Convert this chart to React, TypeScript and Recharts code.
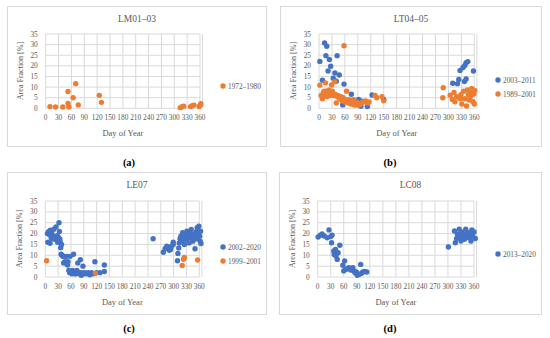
import React from "react";
import { ScatterChart, Scatter, XAxis, YAxis, CartesianGrid, Legend } from "recharts";

const dayTicks = [0, 30, 60, 90, 120, 150, 180, 210, 240, 270, 300, 330, 360];
const fracTicks = [0, 5, 10, 15, 20, 25, 30, 35];
const DAY_GRID_MAX = 360;
const DAY_DOMAIN_MAX = 366; // a few late-December points sit just past the last gridline

const BLUE = "#4472C4";
const ORANGE = "#ED7D31";
const GRAY = "#595959";
const FONT = '"Liberation Serif", "Times New Roman", serif';

// [day of year, area fraction %]
const lm01_1972 = [
  [10, 0.8], [23, 0.6], [40, 0.6], [52, 2.3], [52, 7.9], [54, 0.6], [64, 5.0], [70, 11.6],
  [76, 1.6], [125, 6.1], [130, 2.8], [314, 0.3], [318, 0.7], [322, 1.0], [338, 0.8],
  [342, 1.2], [346, 1.5], [358, 0.9], [361, 1.6], [362, 2.2],
];

const lt04_2003 = [
  [2, 22.1], [8, 13.2], [13, 30.8], [16, 24.8], [18, 29.2], [21, 17.6], [24, 23.0], [27, 19.8],
  [33, 14.2], [37, 16.6], [40, 12.8], [42, 24.8], [47, 15.7], [52, 5.2], [55, 1.6], [58, 11.4],
  [75, 6.6], [92, 4.2], [97, 1.0], [100, 3.3], [112, 0.8], [123, 6.3], [150, 4.2],
  [310, 11.8], [321, 11.6], [324, 13.6], [327, 17.8], [334, 19.2], [338, 20.2], [341, 21.5],
  [345, 22.0], [337, 12.6], [341, 13.8], [358, 17.6],
];

const lt04_1989 = [
  [2, 10.9], [5, 6], [8, 4.5], [10, 7.5], [12, 8], [14, 6], [15, 12], [17, 8], [19, 5.5],
  [21, 7], [23, 8.5], [25, 6], [27, 7.5], [29, 11], [31, 8], [34, 6], [36, 12.5], [38, 6.5],
  [40, 2.5], [42, 5.5], [44, 6], [46, 5], [48, 4.5], [50, 5.5], [52, 4], [54, 3.5], [56, 5],
  [58, 29.5], [60, 3], [62, 4], [64, 8], [66, 3.5], [68, 2.5], [70, 4], [72, 3], [74, 2],
  [76, 3.5], [78, 2.5], [80, 4], [82, 1.5], [84, 2.5], [86, 3], [88, 1.5], [90, 2.5],
  [94, 1.5], [98, 2.5], [102, 3], [108, 3.5], [112, 2.5], [116, 3], [130, 6], [134, 5],
  [146, 5.5], [150, 3.5],
  [288, 9.7], [287, 5], [304, 6.2], [309, 4.2], [313, 7.5], [315, 3.1], [319, 5.5], [324, 5],
  [328, 4.5], [329, 6.4], [331, 2], [335, 8], [338, 4.5], [342, 1.1], [344, 8.7], [346, 6.5],
  [348, 3.9], [351, 5.5], [352, 7.7], [354, 9.4], [357, 3.1], [359, 6.7], [361, 8.4], [360, 2],
];

const le07_2002 = [
  [5, 20], [6, 16], [8, 21], [10, 19.5], [11, 15.5], [12, 21.5], [14, 18], [15, 20.5],
  [17, 17.5], [18, 19], [20, 22], [21, 18.5], [23, 18], [25, 23], [26, 17], [28, 19],
  [29, 16], [30, 18.5], [32, 25], [33, 21], [34, 17.5], [35, 16], [36, 13.5], [38, 15],
  [37, 10.5], [39, 10], [41, 9.5], [43, 6.5], [44, 9.5], [46, 7], [48, 6.5], [50, 9.5],
  [52, 5.5], [53, 7], [55, 3], [57, 2], [58, 9.5], [60, 2.5], [62, 1.5], [64, 3], [65, 2],
  [66, 10.5], [68, 1.5], [70, 2.5], [72, 1.5], [74, 3], [76, 6.5], [78, 2], [80, 1.5],
  [82, 8], [84, 0.8], [85, 2], [88, 5], [90, 1.5], [92, 2], [96, 1.5], [100, 2], [104, 1],
  [108, 2], [112, 1.5], [116, 7], [120, 2], [128, 2], [138, 2.5], [138, 5.5],
  [252, 17.6], [276, 11.4], [280, 13], [284, 14.2], [288, 13.4], [290, 12.3], [293, 12.7],
  [295, 14.2], [299, 15], [299, 16], [309, 7.5], [310, 10.8], [312, 13.4], [313, 15.7],
  [315, 17.6], [317, 18.8], [320, 16.5], [321, 20.4], [324, 18], [325, 15], [327, 19.6],
  [330, 17.3], [331, 21.1], [333, 18.8], [336, 15.7], [337, 20.4], [340, 18], [341, 21.9],
  [344, 19.6], [345, 16.5], [348, 18.8], [350, 13], [352, 20.7], [353, 17.6], [355, 22.7],
  [357, 19.6], [359, 23.4], [361, 18.8], [362, 16.5], [363, 21.1], [364, 15.4],
];

const le07_1999 = [
  [3, 7.5], [117, 1.8], [320, 5.3], [323, 8.2], [325, 9.0], [356, 7.8],
];

const lc08_2013 = [
  [1, 18.4], [6, 19.2], [10, 19.8], [15, 18.9], [22, 18.1], [26, 21.7], [30, 18.6], [33, 19.2],
  [32, 15.8], [37, 12], [41, 12.7], [38, 10.4], [42, 9.7], [45, 8.1], [51, 14.6], [47, 11.2],
  [58, 5.4], [62, 7.4], [60, 2.8], [64, 3.5], [68, 3.8], [72, 4.3], [76, 3.2], [81, 4.3],
  [83, 2.8], [86, 2], [89, 2.3], [91, 0.8], [95, 1.2], [99, 5.8], [101, 1.7], [104, 2.3],
  [108, 2.5], [113, 2.3],
  [301, 13.8], [315, 21.2], [317, 15.8], [320, 17.7], [322, 19.7], [326, 22], [327, 18.6],
  [330, 16.6], [332, 20.7], [334, 18], [336, 19.7], [338, 17.4], [341, 22], [344, 18.9],
  [346, 20.4], [349, 18.1], [352, 19.7], [353, 16.6], [355, 21.7], [357, 18.9], [360, 20.7],
  [363, 17.7],
];

const pts = (arr: number[][]) => arr.map(([day, frac]) => ({ day, frac }));

const panels = [
  {
    id: "(a)", title: "LM01–03",
    series: [{ name: "1972–1980", color: ORANGE, data: lm01_1972 }],
    box: { x: 7, y: 6, w: 260, h: 141 }, plot: { l: 45.7, r: 200, t: 34, b: 108.3 },
    legend: { x: 220, y: 79 }, caption: { x: 129, y: 162 },
  },
  {
    id: "(b)", title: "LT04–05",
    series: [
      { name: "2003–2011", color: BLUE, data: lt04_2003 },
      { name: "1989–2001", color: ORANGE, data: lt04_1989 },
    ],
    box: { x: 280, y: 6, w: 262, h: 141 }, plot: { l: 319, r: 474.3, t: 34, b: 108.3 },
    legend: { x: 495, y: 73 }, caption: { x: 390, y: 162 },
  },
  {
    id: "(c)", title: "LE07",
    series: [
      { name: "2002–2020", color: BLUE, data: le07_2002 },
      { name: "1999–2001", color: ORANGE, data: le07_1999 },
    ],
    box: { x: 7, y: 172, w: 260, h: 143 }, plot: { l: 45.3, r: 199.3, t: 201, b: 277 },
    legend: { x: 220, y: 240 }, caption: { x: 129, y: 328 },
  },
  {
    id: "(d)", title: "LC08",
    series: [{ name: "2013–2020", color: BLUE, data: lc08_2013 }],
    box: { x: 279, y: 172, w: 263, h: 143 }, plot: { l: 317.7, r: 474, t: 201, b: 277 },
    legend: { x: 495, y: 247 }, caption: { x: 390, y: 328 },
  },
];

const dot = (color: string) => (props: any) => (
  <circle cx={props.cx} cy={props.cy} r={2.7} fill={color} />
);

const LegendBox = ({ payload, order }: any) => {
  const items = [...(payload || [])].sort(
    (a: any, b: any) => order.indexOf(a.value) - order.indexOf(b.value)
  );
  return (
    <div style={{ fontFamily: FONT, fontSize: 7.3, color: GRAY }}>
      {items.map((p: any) => (
        <div key={p.value} style={{ display: "flex", alignItems: "center", height: 14 }}>
          <svg width={6} height={6} style={{ marginRight: 2 }}>
            <circle cx={3} cy={3} r={2.7} fill={p.color} />
          </svg>
          <span>{p.value}</span>
        </div>
      ))}
    </div>
  );
};

const Panel = ({ p }: any) => {
  const { box, plot } = p;
  const tick = { fontSize: 7.3, fill: GRAY, fontFamily: FONT };
  const gridW = plot.r - plot.l;
  const fullW = (gridW * DAY_DOMAIN_MAX) / DAY_GRID_MAX;
  const gridH = plot.b - plot.t;
  return (
    <>
      <div
        style={{
          position: "absolute", left: box.x, top: box.y, width: box.w, height: box.h,
          border: "1px solid #d9d9d9", boxSizing: "border-box", background: "#fff",
        }}
      />
      <div style={{ position: "absolute", left: box.x, top: box.y }}>
        <ScatterChart
          width={box.w}
          height={box.h}
          margin={{ top: plot.t - box.y, right: box.x + box.w - plot.l - fullW, bottom: 0, left: 0 }}
        >
          <CartesianGrid
            stroke="#d9d9d9"
            x={plot.l - box.x}
            y={plot.t - box.y}
            width={gridW}
            height={gridH}
          />
          <XAxis
            type="number" dataKey="day" domain={[0, DAY_DOMAIN_MAX]} ticks={dayTicks} interval={0}
            axisLine={false} tickLine={false} tick={tick}
            tickSize={6} tickMargin={1} height={box.y + box.h - plot.b}
          />
          <YAxis
            type="number" dataKey="frac" domain={[0, 35]} ticks={fracTicks} interval={0}
            axisLine={false} tickLine={false} tick={tick} width={plot.l - box.x}
          />
          <Legend
            layout="vertical" align="center" verticalAlign="middle"
            content={<LegendBox order={p.series.map((s: any) => s.name)} />}
            wrapperStyle={{ left: p.legend.x - box.x, top: p.legend.y - box.y, width: "auto" }}
          />
          {p.series.map((s: any) => (
            <Scatter
              key={s.name} name={s.name} data={pts(s.data)} fill={s.color}
              shape={dot(s.color)} isAnimationActive={false}
            />
          ))}
        </ScatterChart>
      </div>
      <div
        style={{
          position: "absolute", left: box.x, width: box.w, top: box.y + 7, textAlign: "center",
          fontSize: 9.5, color: GRAY, lineHeight: "12px",
        }}
      >
        {p.title}
      </div>
      <div
        style={{
          position: "absolute", left: (plot.l + plot.r) / 2, top: plot.b + 25,
          transform: "translate(-50%, -50%)", fontSize: 8.5, color: GRAY, whiteSpace: "nowrap",
        }}
      >
        Day of Year
      </div>
      <div
        style={{
          position: "absolute", left: plot.l - 26, top: (plot.t + plot.b) / 2,
          transform: "translate(-50%, -50%) rotate(-90deg)", fontSize: 8, color: GRAY,
          whiteSpace: "nowrap",
        }}
      >
        Area Fraction [%]
      </div>
      <div
        style={{
          position: "absolute", left: p.caption.x, top: p.caption.y,
          transform: "translate(-50%, -50%)", fontSize: 10.5, fontWeight: "bold", color: "#000",
        }}
      >
        {p.id}
      </div>
    </>
  );
};

export default function App() {
  return (
    <div
      style={{
        position: "absolute", left: 0, top: 0, width: 550, height: 338, background: "#fff",
        fontFamily: FONT, overflow: "hidden",
      }}
    >
      {panels.map((p) => (
        <Panel key={p.id} p={p} />
      ))}
    </div>
  );
}
